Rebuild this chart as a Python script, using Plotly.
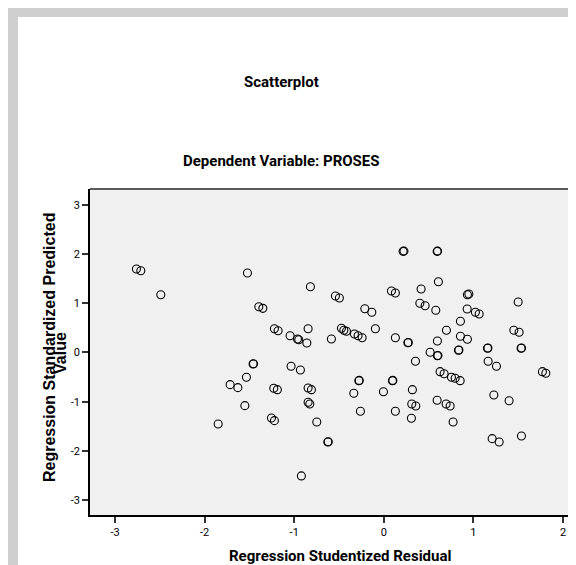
import plotly.graph_objects as go

# Regression Studentized Residual (x) and Regression Standardized Predicted Value (y)
resid = [
    -2.761, -2.712, -2.489, -1.522, -0.819, -1.395, -1.350, -1.221, -1.180, -0.845,
    -1.046, -0.964, -0.949, -0.859, 0.215, 0.225, 0.595, 0.600, 0.609, 0.416,
    -0.540, -0.496, 0.085, 0.129, 0.949, 0.933, 1.499, 0.402, 0.461, 0.580,
    -0.212, -0.134, 0.930, 1.022, 1.064, 0.855, 0.699, 1.451, 1.510, -0.094,
    -0.473, -0.446, -0.417, -0.328, -0.287, -0.242, -0.585, 0.129, 0.268, 0.274,
    0.598, 0.855, 0.933, 0.517, 0.598, 0.604, 0.833, 0.838, 1.157, 1.162,
    1.532, 1.537, 0.353, 1.164, 1.257, 1.770, 1.808, 0.628, 0.673, 0.755,
    0.796, 0.852, -0.279, -0.274, 0.096, 0.101, -0.845, -0.808, -0.335, -0.004,
    0.319, 1.228, 1.398, 0.595, 0.695, 0.740, 0.312, 0.357, -0.845, -0.826,
    -0.261, 0.129, 0.308, 0.773, -0.748, -0.625, -0.620, 1.209, 1.287, 1.536,
    -1.459, -1.454, -1.035, -0.931, -1.533, -1.715, -1.629, -1.228, -1.188, -1.551,
    -1.254, -1.221, -1.849, -0.920,
]
pred = [
    1.697, 1.663, 1.175, 1.616, 1.337, 0.931, 0.898, 0.484, 0.443, 0.484,
    0.341, 0.274, 0.260, 0.193, 2.057, 2.062, 2.057, 2.062, 1.439, 1.291,
    1.148, 1.108, 1.250, 1.209, 1.189, 1.175, 1.026, 1.000, 0.951, 0.858,
    0.890, 0.817, 0.884, 0.817, 0.783, 0.634, 0.451, 0.451, 0.411, 0.484,
    0.492, 0.451, 0.431, 0.376, 0.341, 0.301, 0.274, 0.301, 0.199, 0.204,
    0.234, 0.329, 0.268, 0.004, -0.065, -0.060, 0.045, 0.050, 0.085, 0.090,
    0.085, 0.090, -0.179, -0.179, -0.281, -0.390, -0.423, -0.390, -0.431, -0.504,
    -0.524, -0.573, -0.573, -0.568, -0.573, -0.568, -0.722, -0.756, -0.829, -0.797,
    -0.756, -0.864, -0.980, -0.972, -1.047, -1.087, -1.047, -1.087, -1.012, -1.047,
    -1.195, -1.195, -1.337, -1.413, -1.413, -1.819, -1.814, -1.752, -1.819, -1.697,
    -0.234, -0.229, -0.281, -0.356, -0.504, -0.654, -0.715, -0.728, -0.756, -1.081,
    -1.331, -1.386, -1.453, -2.510,
]

tick_vals = [-3, -2, -1, 0, 1, 2, 3]
tick_text = ["-3", "-2", "-1", "0", "1", "2", "3"]

title_main = "Scatterplot"
title_sub = "Dependent Variable: PROSES"
x_title = "Regression Studentized Residual"
y_title_1 = "Regression Standardized Predicted"
y_title_2 = "Value"

NARROW = "Roboto, Liberation Sans, Arial, sans-serif"
WIDE = "Liberation Sans, Arial, sans-serif"

fig = go.Figure()
fig.add_trace(go.Scatter(
    x=resid, y=pred, mode="markers",
    marker=dict(symbol="circle-open", size=8, color="black", line=dict(width=1.1, color="black")),
    showlegend=False, hoverinfo="x+y",
))

L, T, B, W, H = 82, 181, 507, 576, 565
pw = W - L
ph = B - T

def px2x(px):
    return (px - L) / pw

def py2y(py):
    return (B - py) / ph

annotations = [
    dict(text="<b>%s</b>" % title_main, x=px2x(273), y=py2y(74), font=dict(family=NARROW, size=15, color="black")),
    dict(text="<b>%s</b>" % title_sub, x=px2x(273), y=py2y(153), font=dict(family=NARROW, size=15, color="black")),
    dict(text="<b>%s</b>" % x_title, x=px2x(332), y=py2y(548), font=dict(family=NARROW, size=15, color="black")),
    dict(text="<b>%s</b>" % y_title_1, x=px2x(41), y=py2y(340), textangle=-90, font=dict(family=WIDE, size=16, color="black")),
    dict(text="<b>%s</b>" % y_title_2, x=px2x(52), y=py2y(345), textangle=-90, font=dict(family=WIDE, size=16, color="black")),
]
for a in annotations:
    a.update(xref="paper", yref="paper", xanchor="center", yanchor="middle", showarrow=False)

shapes = [
    # top frame line of the plot box
    dict(type="line", xref="paper", yref="paper", x0=0, x1=1, y0=1, y1=1, line=dict(color="#5a5a5a", width=2)),
    # grey strips of the page background (left and top edges)
    dict(type="rect", xref="paper", yref="paper", x0=px2x(0), x1=px2x(10), y0=py2y(H), y1=py2y(0),
         fillcolor="#cfcfcf", line=dict(width=0), layer="below"),
    dict(type="rect", xref="paper", yref="paper", x0=px2x(0), x1=px2x(W), y0=py2y(9), y1=py2y(0),
         fillcolor="#cfcfcf", line=dict(width=0), layer="below"),
]

axis_common = dict(
    showgrid=False, zeroline=False, showline=True, linecolor="black", linewidth=1.5,
    ticks="outside", ticklen=6, tickwidth=1.5, tickcolor="#333333",
    tickvals=tick_vals, ticktext=tick_text,
    tickfont=dict(family=NARROW, size=11, color="black"),
)

fig.update_layout(
    width=W, height=H,
    margin=dict(l=L, r=0, t=T, b=H - B, pad=0),
    paper_bgcolor="white", plot_bgcolor="#f0f0f0",
    xaxis=dict(range=[-3.279, 2.234], **axis_common),
    yaxis=dict(range=[-3.305, 3.325], **axis_common),
    annotations=annotations, shapes=shapes,
)

fig.write_html("out.html")
